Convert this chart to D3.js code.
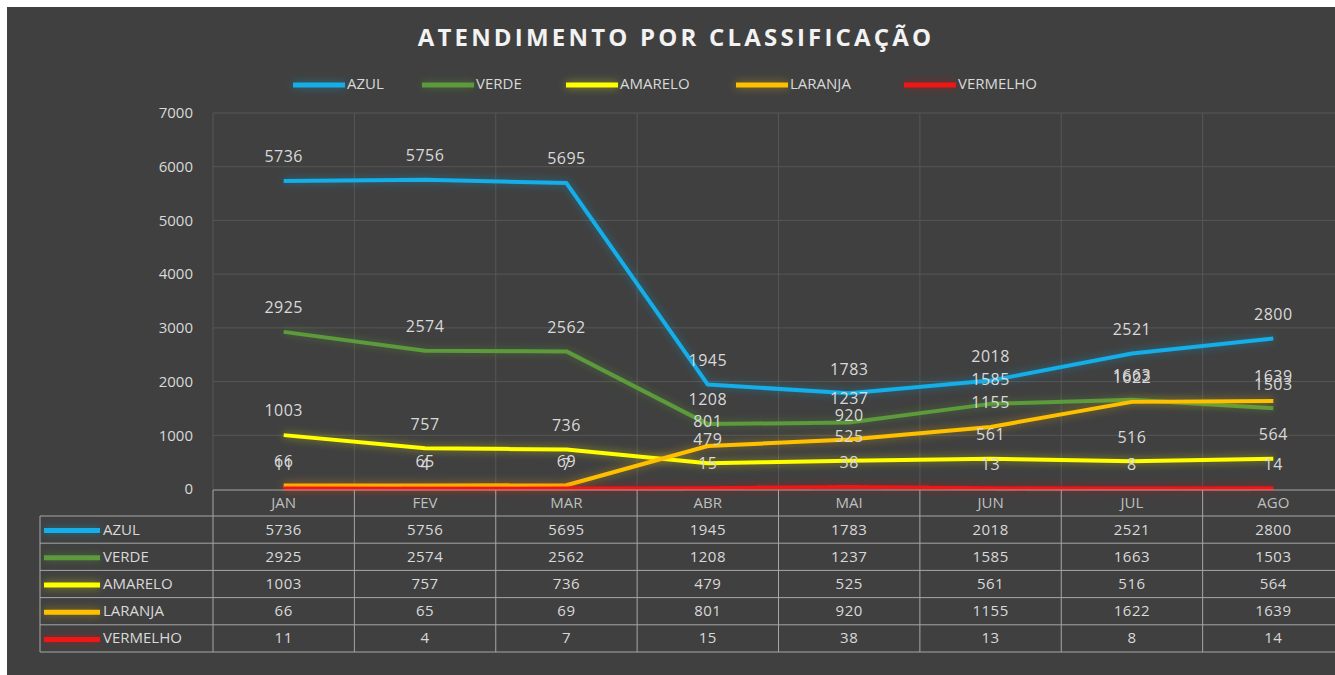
<!DOCTYPE html>
<html>
<head>
<meta charset="utf-8">
<script src="https://cdn.jsdelivr.net/npm/d3@7"></script>
<style>
  body { margin: 0; background: #fff; }
  svg { display: block; }
</style>
</head>
<body>
<svg id="chart"></svg>
<script>
// --- data ---
const months = ["JAN", "FEV", "MAR", "ABR", "MAI", "JUN", "JUL", "AGO"];
const seriesNames = ["AZUL", "VERDE", "AMARELO", "LARANJA", "VERMELHO"];
const azul = [5736, 5756, 5695, 1945, 1783, 2018, 2521, 2800];
const verde = [2925, 2574, 2562, 1208, 1237, 1585, 1663, 1503];
const amarelo = [1003, 757, 736, 479, 525, 561, 516, 564];
const laranja = [66, 65, 69, 801, 920, 1155, 1622, 1639];
const vermelho = [11, 4, 7, 15, 38, 13, 8, 14];
const yTicks = [0, 1000, 2000, 3000, 4000, 5000, 6000, 7000];

const seriesValues = [azul, verde, amarelo, laranja, vermelho];
const colors = ["#12aee8", "#5b9a3a", "#ffff00", "#ffc000", "#f01414"];

const width = 1335, height = 675;
const font = "'Open Sans', sans-serif";
const textColor = "#d9d9d9";

const svg = d3.select("#chart").attr("width", width).attr("height", height);

// dark chart panel (white edge top/left like the screenshot)
svg.append("rect").attr("x", 7).attr("y", 7)
  .attr("width", width - 7).attr("height", height - 7)
  .attr("fill", "#404040");

// glow filter for the lines (user space so flat lines still get it)
const defs = svg.append("defs");
const glow = defs.append("filter").attr("id", "glow")
  .attr("filterUnits", "userSpaceOnUse")
  .attr("x", 0).attr("y", 0).attr("width", width).attr("height", height);
glow.append("feGaussianBlur").attr("in", "SourceGraphic").attr("stdDeviation", 4).attr("result", "b");
glow.append("feComponentTransfer").attr("in", "b").attr("result", "b2")
  .append("feFuncA").attr("type", "linear").attr("slope", 0.45);
const merge = glow.append("feMerge");
merge.append("feMergeNode").attr("in", "b2");
merge.append("feMergeNode").attr("in", "SourceGraphic");

// scales
const plotLeft = 213, plotRight = 1344;
const x = d3.scaleBand().domain(months).range([plotLeft, plotRight]);
const y = d3.scaleLinear().domain([0, 7000]).range([489, 113]);
const cx = (m) => x(m) + x.bandwidth() / 2;

// gridlines
svg.append("g").selectAll("line").data(yTicks.slice(1)).join("line")
  .attr("x1", plotLeft).attr("x2", width)
  .attr("y1", (d) => y(d)).attr("y2", (d) => y(d))
  .attr("stroke", "#565656").attr("stroke-width", 1);

svg.append("g").selectAll("line").data(months).join("line")
  .attr("x1", (d) => x(d)).attr("x2", (d) => x(d))
  .attr("y1", y(7000)).attr("y2", y(0))
  .attr("stroke", "#565656").attr("stroke-width", 1);

// y axis labels
const yAxis = svg.append("g")
  .attr("transform", `translate(${plotLeft - 20},0)`)
  .call(d3.axisLeft(y).tickValues(yTicks).tickFormat(d3.format("d")).tickSize(0).tickPadding(0));
yAxis.select(".domain").remove();
yAxis.selectAll("text")
  .attr("fill", textColor)
  .style("font-family", font)
  .style("font-size", "15px");

// lines
const line = d3.line()
  .x((d, i) => cx(months[i]))
  .y((d) => y(d));

svg.append("g").selectAll("path").data(seriesValues).join("path")
  .attr("d", line)
  .attr("fill", "none")
  .attr("stroke", (d, i) => colors[i])
  .attr("stroke-width", 4)
  .attr("stroke-linejoin", "round")
  .attr("filter", "url(#glow)");

// data labels above points
seriesValues.forEach((vals) => {
  svg.append("g").selectAll("text").data(vals).join("text")
    .attr("x", (d, i) => cx(months[i]))
    .attr("y", (d) => y(d) - 23)
    .attr("text-anchor", "middle")
    .attr("dominant-baseline", "middle")
    .attr("fill", textColor)
    .style("font-family", font)
    .style("font-size", "16px")
    .style("letter-spacing", "0.5px")
    .text((d) => d);
});

// --- data table ---
const tableLeft = 40;
const headerTop = 490, rowTop = 516, rowH = 27.2;
const tableBottom = rowTop + rowH * seriesNames.length;
const gridColor = "#a6a6a6";
const tbl = svg.append("g");

// horizontal borders
tbl.append("line").attr("x1", plotLeft).attr("x2", width)
  .attr("y1", headerTop).attr("y2", headerTop).attr("stroke", gridColor);
d3.range(seriesNames.length + 1).forEach((r) => {
  tbl.append("line").attr("x1", tableLeft).attr("x2", width)
    .attr("y1", rowTop + r * rowH).attr("y2", rowTop + r * rowH)
    .attr("stroke", gridColor);
});
// vertical borders
tbl.append("line").attr("x1", tableLeft).attr("x2", tableLeft)
  .attr("y1", rowTop).attr("y2", tableBottom).attr("stroke", gridColor);
tbl.selectAll(".vcol").data(months).join("line")
  .attr("class", "vcol")
  .attr("x1", (d) => x(d)).attr("x2", (d) => x(d))
  .attr("y1", headerTop).attr("y2", tableBottom).attr("stroke", gridColor);

// month header
tbl.selectAll(".mh").data(months).join("text")
  .attr("class", "mh")
  .attr("x", (d) => cx(d)).attr("y", (headerTop + rowTop) / 2 + 1)
  .attr("text-anchor", "middle").attr("dominant-baseline", "middle")
  .attr("fill", "#bfbfbf")
  .style("font-family", font).style("font-size", "15px")
  .text((d) => d);

// rows
seriesNames.forEach((name, r) => {
  const ym = rowTop + r * rowH + rowH / 2 + 1;
  tbl.append("line")
    .attr("x1", tableLeft + 4).attr("x2", tableLeft + 60)
    .attr("y1", ym).attr("y2", ym)
    .attr("stroke", colors[r]).attr("stroke-width", 5)
    .attr("filter", "url(#glow)");
  tbl.append("text")
    .attr("x", tableLeft + 63).attr("y", ym)
    .attr("dominant-baseline", "middle")
    .attr("fill", textColor)
    .style("font-family", font).style("font-size", "15px")
    .text(name);
  tbl.selectAll(".v" + r).data(seriesValues[r]).join("text")
    .attr("class", "v" + r)
    .attr("x", (d, i) => cx(months[i])).attr("y", ym)
    .attr("text-anchor", "middle").attr("dominant-baseline", "middle")
    .attr("fill", textColor)
    .style("font-family", font).style("font-size", "15px")
    .style("letter-spacing", "0.5px")
    .text((d) => d);
});

// --- legend ---
const legendX = [293, 422, 566, 736, 904];
const legend = svg.append("g");
seriesNames.forEach((name, i) => {
  legend.append("line")
    .attr("x1", legendX[i]).attr("x2", legendX[i] + 52)
    .attr("y1", 85).attr("y2", 85)
    .attr("stroke", colors[i]).attr("stroke-width", 5)
    .attr("filter", "url(#glow)");
  legend.append("text")
    .attr("x", legendX[i] + 54).attr("y", 85)
    .attr("dominant-baseline", "middle")
    .attr("fill", textColor)
    .style("font-family", font).style("font-size", "15px")
    .text(name);
});

// --- title ---
svg.append("text")
  .attr("x", 676).attr("y", 40)
  .attr("text-anchor", "middle").attr("dominant-baseline", "middle")
  .attr("fill", "#f2f2f2")
  .style("font-family", font).style("font-size", "24px")
  .style("font-weight", "bold").style("letter-spacing", "3.2px")
  .text("ATENDIMENTO POR CLASSIFICAÇÃO");
</script>
</body>
</html>
